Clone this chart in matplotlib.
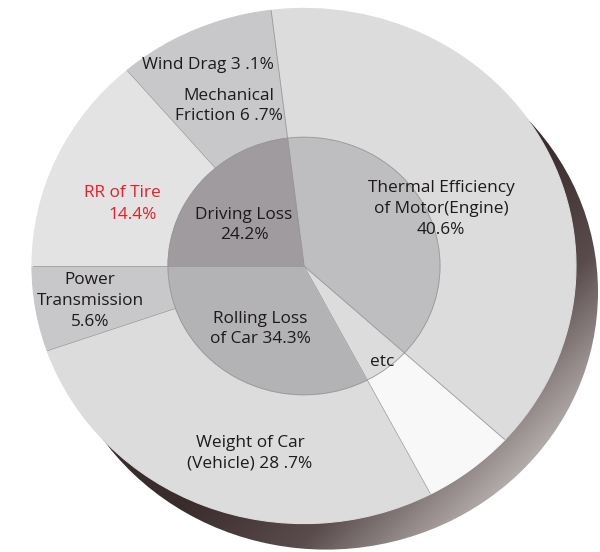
import numpy as np
import matplotlib
matplotlib.use("Agg")
import matplotlib.pyplot as plt
from matplotlib.colors import LinearSegmentedColormap
from matplotlib.patches import Circle

# ---- data -------------------------------------------------------------
inner_names = ["Rolling Loss of Car", "etc", "Thermal Efficiency of Motor(Engine)", "Driving Loss"]
inner_values = [34.3, 5.8, 40.6, 24.2]
inner_colors = ["#b3b2b4", "#dcdcdc", "#bebec0", "#a09b9e"]

outer_names = ["Power Transmission", "Weight of Car (Vehicle)", "etc",
               "Thermal Efficiency of Motor(Engine)", "Wind Drag",
               "Mechanical Friction", "RR of Tire"]
outer_values = [5.6, 28.7, 5.8, 40.6, 3.1, 6.7, 14.4]
outer_colors = ["#c8c8ca", "#dcdcdc", "#f8f8f8", "#dcdcdc", "#c8c8ca", "#c8c8ca", "#e3e3e3"]

plt.rcParams["font.family"] = ["Open Sans", "DejaVu Sans"]

# ---- canvas: 1 data unit = 1 px horizontally, slightly squashed vertically
W, H = 600, 552
K = 0.947                      # vertical squash of the disc
fig = plt.figure(figsize=(W / 100, H / 100), dpi=100)
ax = fig.add_axes([0, 0, 1, 1])


def px(x, y):
    """pixel position (origin top-left) -> data coordinates"""
    return x, (H - y) / K


CX, CY = px(304, 266)
R_OUT, R_IN = 272, 136

# ---- rings -------------------------------------------------------------
outer_w, _ = ax.pie(outer_values, radius=R_OUT, center=(CX, CY), startangle=180,
                    colors=outer_colors, frame=True,
                    wedgeprops=dict(width=R_OUT - R_IN, linewidth=0.8, zorder=2))
inner_w, _ = ax.pie(inner_values, radius=R_IN, center=(CX, CY), startangle=180,
                    colors=inner_colors, frame=True,
                    wedgeprops=dict(linewidth=0.8, zorder=2))
# edge in the fill colour closes the anti-aliasing seams between wedges
for w in list(outer_w) + list(inner_w):
    w.set_edgecolor(w.get_facecolor())
ax.set_xlim(0, W)
ax.set_ylim(0, H / K)
ax.set_aspect("auto")
ax.axis("off")

# ---- shaded rim below the disc ---------------------------------------
rim_cmap = LinearSegmentedColormap.from_list("rim", ["#3a2b2c", "#5a4c4d", "#b9b2b0"])
gx, gy = np.meshgrid(np.arange(W), np.arange(H))
grad = np.clip((gx + gy - 690) / 310.0, 0, 1)
rim_img = ax.imshow(grad, cmap=rim_cmap, extent=(0, W, 0, H / K), origin="upper",
                    aspect="auto", zorder=0, interpolation="bilinear")
rim = Circle((CX + 22, CY - 26 / K), R_OUT, transform=ax.transData,
             facecolor="none", edgecolor="none")
ax.add_patch(rim)
rim_img.set_clip_path(rim)
ax.set_xlim(0, W)
ax.set_ylim(0, H / K)

# thin separators (none between Wind Drag and Mechanical Friction)
line_kw = dict(color="#999999", linewidth=0.55, zorder=3)
for i, w in enumerate(outer_w):
    if outer_names[i] == "Mechanical Friction":
        continue
    t = np.deg2rad(w.theta1)
    ax.plot([CX + R_IN * np.cos(t), CX + (R_OUT - 0.5) * np.cos(t)],
            [CY + R_IN * np.sin(t), CY + (R_OUT - 0.5) * np.sin(t)], **line_kw)
for w in inner_w:
    t = np.deg2rad(w.theta1)
    ax.plot([CX, CX + R_IN * np.cos(t)], [CY, CY + R_IN * np.sin(t)], **line_kw)
ax.add_patch(Circle((CX, CY), R_IN, facecolor="none", edgecolor="#999999",
                    linewidth=0.55, zorder=3))

# ---- labels --------------------------------------------------------------
FS = 12.4
INK = "#1e1a1b"
txt = dict(ha="center", va="center", fontsize=FS, color=INK, linespacing=1.4,
           fontweight="medium", zorder=5)

ax.text(*px(208, 65), "Wind Drag 3 .1%", **txt)
ax.text(*px(229, 106), "Mechanical\nFriction 6 .7%", **txt)
ax.text(*px(122, 193), "RR of Tire", **{**txt, "color": "#ed1c24"})
ax.text(*px(133, 215), "14.4%", **{**txt, "color": "#ed1c24"})
ax.text(*px(244, 225), "Driving Loss\n24.2%", **txt)
ax.text(*px(441, 209), "Thermal Efficiency\nof Motor(Engine)\n40.6%", **txt)
ax.text(*px(90, 301), "Power\nTransmission\n5.6%", **txt)
ax.text(*px(260, 329), "Rolling Loss\nof Car 34.3%", **txt)
ax.text(*px(250, 453), "Weight of Car\n(Vehicle) 28 .7%", **txt)

# "etc" sits on the inner/outer seam, centred on its wedge
etc_w = inner_w[inner_names.index("etc")]
te = np.deg2rad((etc_w.theta1 + etc_w.theta2) / 2)
ax.text(CX + 128 * np.cos(te), CY + 128 * np.sin(te), "etc", **txt)

fig.savefig("out.png", dpi=100)
